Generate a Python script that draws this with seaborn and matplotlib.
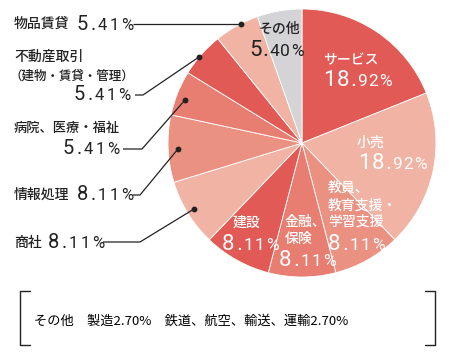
import matplotlib
matplotlib.use("Agg")
import matplotlib.pyplot as plt
import seaborn as sns

# Industry shares (%), clockwise from 12 o'clock
categories = ["サービス", "小売", "教員、教育支援・学習支援", "金融、保険", "建設",
              "商社", "情報処理", "病院、医療・福祉", "不動産取引（建物・賃貸・管理）",
              "物品賃貸", "その他"]
values = [18.92, 18.92, 8.11, 8.11, 8.11, 8.11, 8.11, 5.41, 5.41, 5.41, 5.40]
pct_labels = ["18.92%", "18.92%", "8.11%", "8.11%", "8.11%", "8.11%", "8.11%",
              "5.41%", "5.41%", "5.41%", "5.40%"]
colors = ["#E25A55", "#F1B3A3", "#EB9182", "#E87E71", "#E25A55", "#F1B3A3",
          "#EB9182", "#E87E71", "#E25A55", "#F1B3A3", "#D4D4D7"]
others_note = "その他　製造2.70%　鉄道、航空、輸送、運輸2.70%"

sns.set_theme(style="white")
JP = ["Noto Sans CJK JP", "DejaVu Sans"]
NUM = ["Roboto", "Noto Sans CJK JP"]
plt.rcParams["font.family"] = JP

W, H = 450, 355
fig = plt.figure(figsize=(W / 100, H / 100), dpi=100)
ax = fig.add_axes([0, 0, 1, 1])
renderer = fig.canvas.get_renderer()


def Y(y):
    # pixel row (from top) -> data y
    return H - y


cx, cy, r = 302, 143, 134
ax.pie(values, colors=colors, startangle=90, counterclock=False,
       center=(cx, Y(cy)), radius=r,
       wedgeprops=dict(edgecolor="white", linewidth=0.6))
ax.set_xlim(0, W)
ax.set_ylim(0, H)
ax.set_aspect("equal")
ax.axis("off")

ink = "#222222"


def pct(x, base, s, big, small, color=ink, ha="left", track=1.5):
    # integer part large, decimals smaller, loosely tracked like the original
    cut = s.index(".") + 1
    texts, cur = [], x
    for k, ch in enumerate(s):
        fs = big if k < cut else small
        t = ax.text(cur, Y(base), ch, fontsize=fs, color=color, va="baseline",
                    family=NUM)
        w = t.get_window_extent(renderer).width
        texts.append(t)
        cur += w + track
    total = cur - track - x
    if ha == "right":
        for t in texts:
            px, py = t.get_position()
            t.set_position((px - total, py))


def jp(x, y, s, fs=10, color=ink):
    ax.text(x, Y(y), s, fontsize=fs, color=color, va="center", family=JP,
            fontweight="medium")


# outside labels with leader lines
jp(14, 24, "物品賃貸")
pct(77, 29.5, pct_labels[9], 14.5, 12, track=2.2)
jp(14, 57, "不動産取引")
jp(10, 76, "（建物・賃貸・管理）", fs=9)
pct(130, 100.5, pct_labels[8], 14.5, 12, ha="right", track=2.2)
jp(14, 128, "病院、医療・福祉", fs=9.5)
pct(119, 154.3, pct_labels[7], 14.5, 12, ha="right", track=2.2)
jp(14, 195, "情報処理")
pct(77, 200.5, pct_labels[6], 14.5, 12, track=2.2)
jp(14, 243, "商社")
pct(48, 248.3, pct_labels[5], 14.5, 12, track=2.2)

leaders = [
    [(133, 24), (241, 24)],
    [(135, 95), (143, 95), (199, 57)],
    [(123, 149), (142, 149), (185, 100)],
    [(133, 195), (140, 195), (178, 149)],
    [(103, 242), (140, 242), (194, 209)],
]
for pts in leaders:
    xs = [p[0] for p in pts]
    ys = [Y(p[1]) for p in pts]
    ax.plot(xs, ys, color=ink, lw=0.9, solid_capstyle="butt")
    ax.plot(xs[-1], ys[-1], "o", color=ink, ms=3.2)

# labels inside the pie
jp(323, 60, "サービス", color="white")
pct(323, 85.7, pct_labels[0], 16, 12.5, color="white", track=1.2)
jp(357, 143, "小売", color="white")
pct(358, 168.7, pct_labels[1], 16, 12.5, color="white", track=1.2)
jp(328, 188, "教員、", color="white")
jp(328, 206, "教育支援・", color="white")
jp(328, 222, "学習支援", color="white")
pct(328, 250, pct_labels[2], 16, 12.5, color="white", track=1.6)
jp(285, 222, "金融、", color="white")
jp(285, 239, "保険", color="white")
pct(279, 265.7, pct_labels[3], 16, 12.5, color="white", track=1.6)
jp(233, 223, "建設", color="white")
pct(222, 250, pct_labels[4], 16, 12.5, color="white", track=1.6)
jp(259, 29, "その他")
pct(249, 56.3, pct_labels[10], 16, 12.5, track=1.0)

# bracketed note for minor industries
for x0, x1 in [(20, 30), (435, 425)]:
    ax.plot([x1, x0, x0, x1], [Y(291), Y(291), Y(345), Y(345)], color=ink, lw=1)
ax.text(34, Y(321), others_note, fontsize=9.5, color="black", va="center", family=JP)

fig.savefig("out.png", dpi=100)
